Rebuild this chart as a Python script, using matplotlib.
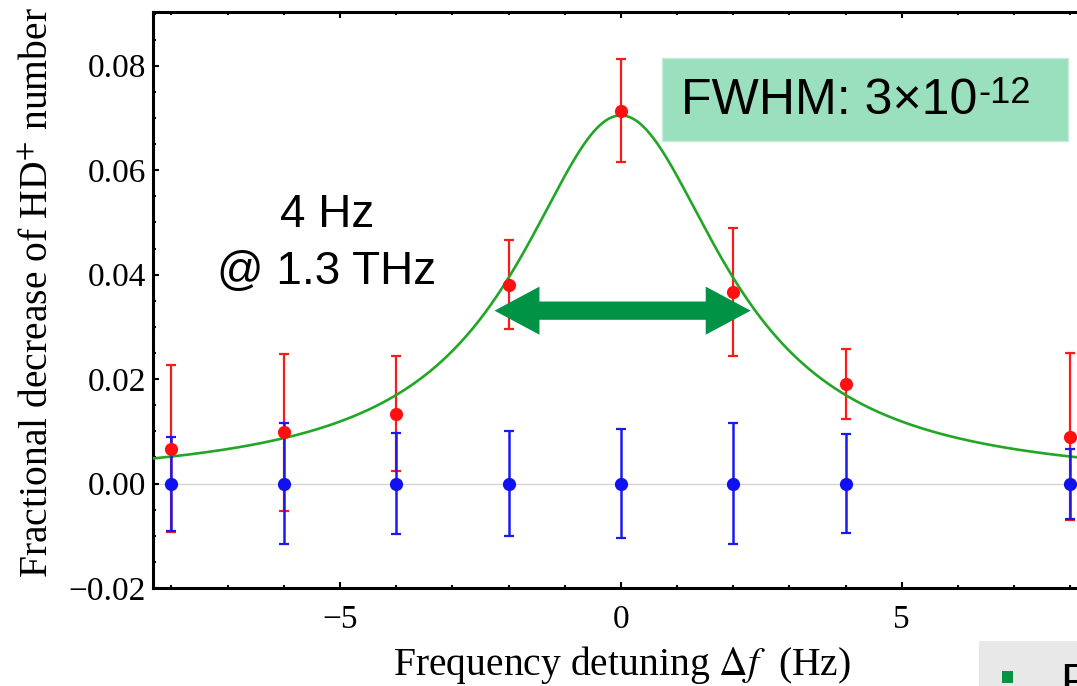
import numpy as np
import matplotlib
matplotlib.use("Agg")
import matplotlib.pyplot as plt
from matplotlib.patches import Rectangle, Polygon
from matplotlib.ticker import MultipleLocator, FuncFormatter

plt.rcParams["font.family"] = ["Liberation Serif", "DejaVu Serif"]
plt.rcParams["mathtext.fontset"] = "stix"

# Measured fractional decrease vs detuning (laser on resonance scan)
detuning = [-8, -6, -4, -2, 0, 2, 4, 8]
signal = [0.0067, 0.0098, 0.0134, 0.0381, 0.0714, 0.0367, 0.0191, 0.0090]
signal_err = [0.0160, 0.0150, 0.0110, 0.0085, 0.0098, 0.0123, 0.0067, 0.0160]

# Control measurement (no excitation)
control = [0.0, 0.0, 0.0, 0.0, 0.0, 0.0, 0.0, 0.0]
control_err = [0.0090, 0.0115, 0.0096, 0.0101, 0.0105, 0.0115, 0.0094, 0.0067]

# Lorentzian fit parameters
fit_amplitude = 0.0705
fit_fwhm = 4.5

W, H = 1077, 686
fig = plt.figure(figsize=(W / 100, H / 100), dpi=100)
ax = fig.add_axes([0.142, 0.1429, 0.869, 0.8397])

ax.set_xlim(-8.33, 8.33)
ax.set_ylim(-0.02, 0.0903)

ax.axhline(0.0, color="#d4d4d4", lw=1.0, zorder=1)

xs = np.linspace(-8.33, 8.33, 600)
lorentz = fit_amplitude / (1.0 + (2.0 * xs / fit_fwhm) ** 2)
ax.plot(xs, lorentz, color="#22a626", lw=1.9, zorder=3)

ax.errorbar(detuning, signal, yerr=signal_err, fmt="none", ecolor="#ff1a1a",
            elinewidth=1.6, capsize=3.5, capthick=1.6, zorder=2)
ax.errorbar(detuning, control, yerr=control_err, fmt="none", ecolor="#1a1aee",
            elinewidth=1.8, capsize=3.5, capthick=1.6, zorder=4)
ax.plot(detuning, signal, "o", color="#ff1010", ms=9.5, mec="none", zorder=5)
ax.plot(detuning, control, "o", color="#1010f0", ms=9.5, mec="none", zorder=6)


def double_arrow(x0, x1, y, shaft, head_w, head_len, **kw):
    """Double-headed horizontal arrow outline as one polygon."""
    s, h = shaft / 2.0, head_w / 2.0
    verts = [
        (x0, y), (x0 + head_len, y + h), (x0 + head_len, y + s),
        (x1 - head_len, y + s), (x1 - head_len, y + h), (x1, y),
        (x1 - head_len, y - h), (x1 - head_len, y - s),
        (x0 + head_len, y - s), (x0 + head_len, y - h),
    ]
    return Polygon(verts, closed=True, **kw)


# Arrow spanning the full width at half maximum
arrow_y = 0.0331
ax.add_patch(double_arrow(-fit_fwhm / 2.0, fit_fwhm / 2.0 + 0.06, arrow_y,
                          shaft=0.0035, head_w=0.0092, head_len=0.8,
                          facecolor="#009245", edgecolor="none", zorder=7))

for s in ax.spines.values():
    s.set_linewidth(2.2)
ax.xaxis.set_major_locator(MultipleLocator(5))
ax.xaxis.set_minor_locator(MultipleLocator(1))
ax.yaxis.set_major_locator(MultipleLocator(0.02))
ax.yaxis.set_minor_locator(MultipleLocator(0.005))
ax.tick_params(which="both", direction="in", top=True, right=False,
               width=1.5, labelsize=24)
ax.tick_params(axis="x", pad=12)
ax.tick_params(axis="y", pad=5)
ax.tick_params(which="major", length=4.5)
ax.tick_params(which="minor", length=2.5)
ax.yaxis.set_major_formatter(FuncFormatter(
    lambda v, p: ("\u2212" if v < -1e-12 else "") + f"{abs(v):.2f}"))

ax.set_xlabel(r"Frequency detuning $\Delta f$  (Hz)", fontsize=28.5)
ax.set_ylabel(r"Fractional decrease of HD$^{+}$ number", fontsize=28.5)
ax.xaxis.set_label_coords(0.501, -0.097)
ax.yaxis.set_label_coords(-0.103, 0.512)

sans = ["Liberation Sans", "DejaVu Sans"]

# Resolution annotation
fig.text(327 / W, 1 - 215 / H, "4 Hz", family=sans, fontsize=33,
         ha="center", va="center")
fig.text(327 / W, 1 - 272 / H, "@ 1.3 THz", family=sans, fontsize=33,
         ha="center", va="center")

# FWHM label box
fig.add_artist(Rectangle((662 / W, 1 - 141 / H), 406 / W, 83 / H,
                         transform=fig.transFigure, facecolor="#9adfbe",
                         edgecolor="#c4ecd8", lw=1.0))
t = fig.text(681 / W, 1 - 101 / H, "FWHM: 3\u00d710", family=sans,
             fontsize=36, ha="left", va="center")
fig.canvas.draw()
bb = t.get_window_extent()
fig.text((bb.x1 + 1) / W, (H - 76) / H, "-12", family=sans, fontsize=26,
         ha="left", va="top")

# Partial legend panel at the lower right
fig.add_artist(Rectangle((979 / W, 0), 98 / W, 45 / H,
                         transform=fig.transFigure, facecolor="#e8e8e8",
                         edgecolor="none"))
fig.add_artist(Rectangle((1002 / W, 3 / H), 11 / W, 12 / H,
                         transform=fig.transFigure, facecolor="#009245",
                         edgecolor="none"))
fig.text(1060 / W, 1 - 662 / H, "F", family=sans, fontsize=34,
         ha="left", va="top")

fig.savefig("out.png", dpi=100)
